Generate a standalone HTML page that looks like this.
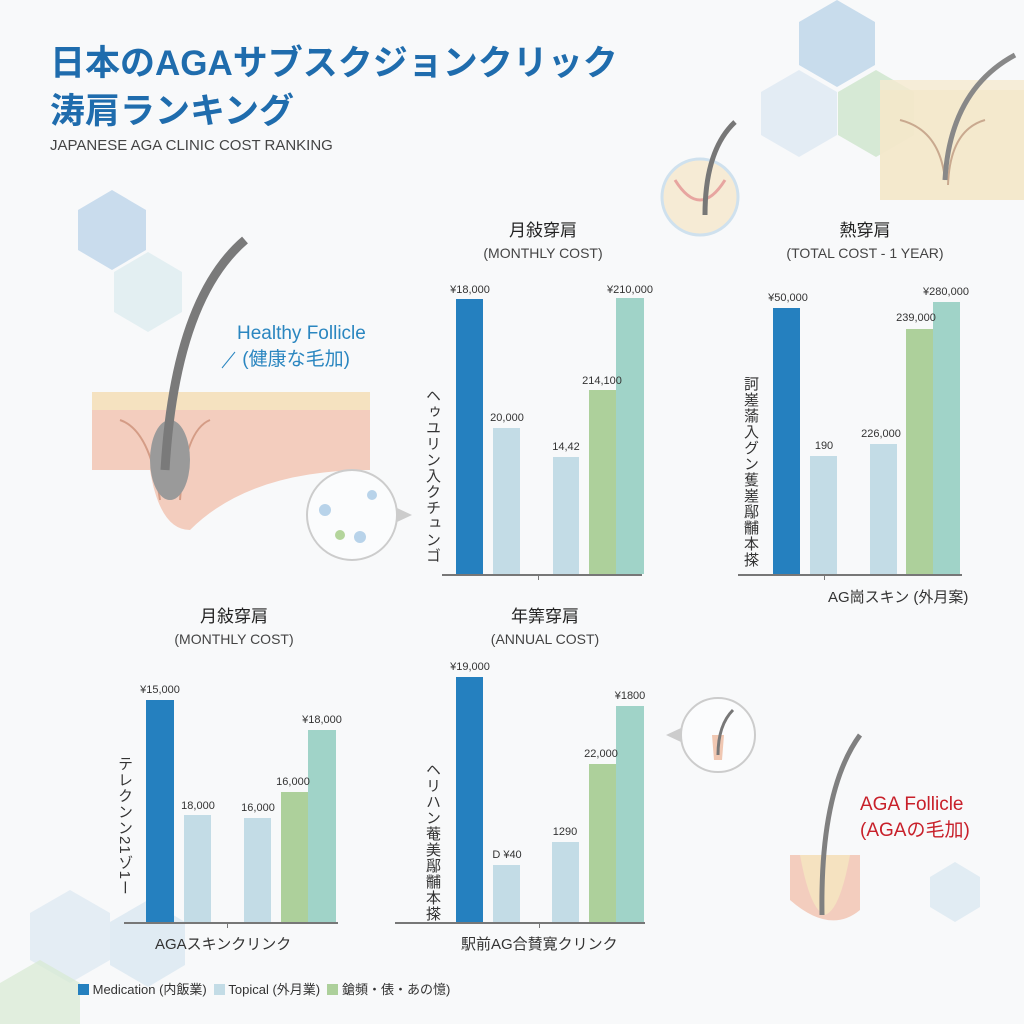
<!DOCTYPE html>
<html><head><meta charset="utf-8"><style>
body{margin:0;width:1024px;height:1024px;background:#f8f9fa;position:relative;overflow:hidden;font-family:"Liberation Sans","Noto Sans CJK JP",sans-serif;}
.a{position:absolute;}
.t{position:absolute;color:#222;white-space:nowrap;}
.b{position:absolute;}
.v{position:absolute;font-size:11px;color:#333;white-space:nowrap;transform:translateX(-50%);}
.h{position:absolute;font-size:17px;color:#222;text-align:center;transform:translateX(-50%);white-space:nowrap;line-height:22px}
.h span{font-size:14px;color:#444}
.vt{position:absolute;writing-mode:vertical-rl;font-size:15px;color:#333;letter-spacing:1px}
.ax{position:absolute;height:2px;background:#777}
</style></head><body>
<svg class="a" style="left:0;top:0" width="1024" height="1024">
<g fill="#a9c8e2" opacity="0.6"><polygon points="837,0 875,22 875,65 837,87 799,65 799,22"/></g>
<polygon points="799,70 837,92 837,135 799,157 761,135 761,92" fill="#dde9f2" opacity="0.8"/>
<polygon points="876,70 914,92 914,135 876,157 838,135 838,92" fill="#c8e2c4" opacity="0.7"/>
<polygon points="112,190 146,210 146,250 112,270 78,250 78,210" fill="#c9dced"/>
<polygon points="148,252 182,272 182,312 148,332 114,312 114,272" fill="#e3eff2"/>
<polygon points="955,862 980,877 980,907 955,922 930,907 930,877" fill="#e1ecf3"/>
<polygon points="70,890 110,913 110,960 70,983 30,960 30,913" fill="#dfeaf2" opacity="0.8"/>
<polygon points="148,900 185,922 185,965 148,987 110,965 110,922" fill="#d6e6f0" opacity="0.7"/>
<polygon points="40,960 80,983 80,1030 40,1053 0,1030 0,983" fill="#d7e9d1" opacity="0.7"/>
<!-- top right skin -->
<rect x="880" y="80" width="144" height="120" fill="#f5ead0" opacity="0.8"/>
<path d="M880,90 L1024,90 L1024,200 L880,200 Z" fill="#f3e6c7" opacity="0.6"/>
<path d="M900,120 Q940,130 945,180 M985,120 Q950,130 948,185" stroke="#c9a98f" fill="none" stroke-width="2"/>
<path d="M1015,55 Q950,90 945,180" stroke="#888" stroke-width="5" fill="none"/>
<!-- small circle top -->
<circle cx="700" cy="197" r="38" fill="#f6ebd5" stroke="#cfe1ee" stroke-width="3"/>
<path d="M675,180 Q700,220 725,180" stroke="#e7a5a0" fill="none" stroke-width="3"/>
<path d="M735,122 Q705,150 705,215" stroke="#777" stroke-width="5" fill="none"/>
<!-- healthy follicle -->
<path d="M92,392 L370,392 L370,470 Q250,470 190,530 Q160,530 150,470 Q100,470 92,470 Z" fill="#f3cdbe"/>
<path d="M92,392 L370,392 L370,410 L92,410 Z" fill="#f5e2c0"/>
<path d="M120,420 Q150,430 160,500 M210,420 Q185,430 180,500" stroke="#d49c86" stroke-width="2" fill="none"/>
<ellipse cx="170" cy="460" rx="20" ry="40" fill="#9a9a9a"/>
<path d="M245,240 Q175,300 165,470" stroke="#7a7a7a" stroke-width="9" fill="none"/>
<line x1="235" y1="352" x2="222" y2="368" stroke="#2a86c0" stroke-width="1"/>
<!-- molecule circle -->
<circle cx="352" cy="515" r="45" fill="#fbfcfd" stroke="#ccc" stroke-width="2"/>
<polygon points="397,508 412,515 397,522" fill="#ccc"/>
<g fill="#b8d3ea"><circle cx="325" cy="510" r="6"/><circle cx="360" cy="537" r="6"/><circle cx="372" cy="495" r="5"/></g>
<circle cx="340" cy="535" r="5" fill="#b4d59c"/>
<!-- AGA small circle -->
<circle cx="718" cy="735" r="37" fill="#fbfcfd" stroke="#ccc" stroke-width="2"/>
<polygon points="681,728 666,735 681,742" fill="#ccc"/>
<path d="M712,735 L724,735 L722,760 L714,760Z" fill="#f0c7b2"/>
<path d="M733,710 Q718,725 718,755" stroke="#777" stroke-width="3" fill="none"/>
<!-- AGA follicle -->
<path d="M790,855 L860,855 L860,910 Q830,935 790,900 Z" fill="#f3cdbe"/>
<path d="M800,855 Q810,910 825,915 Q840,910 850,855" fill="#f5e2c0"/>
<path d="M860,735 Q820,790 822,915" stroke="#808080" stroke-width="5" fill="none"/>
</svg>

<div class="t" style="left:50px;top:40px;font-size:35px;font-weight:bold;color:#1f6cad;line-height:48px">日本のAGAサブスクジョンクリック<br>涛肩ランキング</div>
<div class="t" style="left:50px;top:137px;font-size:15px;color:#444">JAPANESE AGA CLINIC COST RANKING</div>
<div class="t" style="left:237px;top:321px;font-size:19px;color:#2a86c0;line-height:26px">Healthy Follicle<br>&nbsp;(健康な毛加)</div>
<div class="t" style="left:860px;top:792px;font-size:19px;color:#c8202a;line-height:26px">AGA Follicle<br>(AGAの毛加)</div>

<!-- chart 1 -->
<div class="h" style="left:543px;top:220px">月敍穿肩<br><span>(MONTHLY COST)</span></div>
<div class="vt" style="left:422px;top:388px">ヘゥユリン入クチュンゴ</div>
<div class="b" style="left:456px;top:299px;width:27px;height:275px;background:#2580bf"></div>
<div class="b" style="left:493px;top:428px;width:27px;height:146px;background:#c3dce6"></div>
<div class="b" style="left:553px;top:457px;width:26px;height:117px;background:#c3dce6"></div>
<div class="b" style="left:589px;top:390px;width:27px;height:184px;background:#add09b"></div>
<div class="b" style="left:616px;top:298px;width:28px;height:276px;background:#a0d3c8"></div>
<div class="v" style="left:470px;top:284px">¥18,000</div>
<div class="v" style="left:507px;top:412px">20,000</div>
<div class="v" style="left:566px;top:441px">14,42</div>
<div class="v" style="left:602px;top:375px">214,100</div>
<div class="v" style="left:630px;top:284px">¥210,000</div>
<div class="ax" style="left:442px;top:574px;width:200px"></div>
<div class="ax" style="left:538px;top:574px;width:1px;height:6px"></div>

<!-- chart 2 -->
<div class="h" style="left:865px;top:220px">熱穿肩<br><span>(TOTAL COST - 1 YEAR)</span></div>
<div class="vt" style="left:740px;top:376px">訶嵳蕍入グン蒦嵳鄬黼本搽</div>
<div class="b" style="left:773px;top:308px;width:27px;height:266px;background:#2580bf"></div>
<div class="b" style="left:810px;top:456px;width:27px;height:118px;background:#c3dce6"></div>
<div class="b" style="left:870px;top:444px;width:27px;height:130px;background:#c3dce6"></div>
<div class="b" style="left:906px;top:329px;width:27px;height:245px;background:#add09b"></div>
<div class="b" style="left:933px;top:302px;width:27px;height:272px;background:#a0d3c8"></div>
<div class="v" style="left:788px;top:292px">¥50,000</div>
<div class="v" style="left:824px;top:440px">190</div>
<div class="v" style="left:881px;top:428px">226,000</div>
<div class="v" style="left:916px;top:312px">239,000</div>
<div class="v" style="left:946px;top:286px">¥280,000</div>
<div class="ax" style="left:738px;top:574px;width:224px"></div>
<div class="ax" style="left:824px;top:574px;width:1px;height:6px"></div>
<div class="t" style="left:828px;top:586px;font-size:15px;color:#333">AG崗スキン (外月案)</div>

<!-- chart 3 -->
<div class="h" style="left:234px;top:606px">月敍穿肩<br><span>(MONTHLY COST)</span></div>
<div class="vt" style="left:114px;top:756px">テレクンン21ゾ1ー</div>
<div class="b" style="left:146px;top:700px;width:28px;height:222px;background:#2580bf"></div>
<div class="b" style="left:184px;top:815px;width:27px;height:107px;background:#c3dce6"></div>
<div class="b" style="left:244px;top:818px;width:27px;height:104px;background:#c3dce6"></div>
<div class="b" style="left:281px;top:792px;width:27px;height:130px;background:#add09b"></div>
<div class="b" style="left:308px;top:730px;width:28px;height:192px;background:#a0d3c8"></div>
<div class="v" style="left:160px;top:684px">¥15,000</div>
<div class="v" style="left:198px;top:800px">18,000</div>
<div class="v" style="left:258px;top:802px">16,000</div>
<div class="v" style="left:293px;top:776px">16,000</div>
<div class="v" style="left:322px;top:714px">¥18,000</div>
<div class="ax" style="left:124px;top:922px;width:214px"></div>
<div class="ax" style="left:227px;top:922px;width:1px;height:6px"></div>
<div class="t" style="left:155px;top:933px;font-size:15px;color:#333">AGAスキンクリンク</div>

<!-- chart 4 -->
<div class="h" style="left:545px;top:606px">年筭穿肩<br><span>(ANNUAL COST)</span></div>
<div class="vt" style="left:422px;top:762px">ヘリハン菴美鄬黼本搽</div>
<div class="b" style="left:456px;top:677px;width:27px;height:245px;background:#2580bf"></div>
<div class="b" style="left:493px;top:865px;width:27px;height:57px;background:#c3dce6"></div>
<div class="b" style="left:552px;top:842px;width:27px;height:80px;background:#c3dce6"></div>
<div class="b" style="left:589px;top:764px;width:27px;height:158px;background:#add09b"></div>
<div class="b" style="left:616px;top:706px;width:28px;height:216px;background:#a0d3c8"></div>
<div class="v" style="left:470px;top:661px">¥19,000</div>
<div class="v" style="left:507px;top:849px">D ¥40</div>
<div class="v" style="left:565px;top:826px">1290</div>
<div class="v" style="left:601px;top:748px">22,000</div>
<div class="v" style="left:630px;top:690px">¥1800</div>
<div class="ax" style="left:395px;top:922px;width:250px"></div>
<div class="ax" style="left:539px;top:922px;width:1px;height:6px"></div>
<div class="t" style="left:461px;top:933px;font-size:15px;color:#333">駅前AG合賛寛クリンク</div>

<!-- legend -->
<div class="t" style="left:78px;top:979px;font-size:13px;color:#333">
<span style="display:inline-block;width:11px;height:11px;background:#2580bf;vertical-align:-1px"></span> Medication (内飯業)&nbsp;
<span style="display:inline-block;width:11px;height:11px;background:#c3dce6;vertical-align:-1px"></span> Topical (外月業)&nbsp;
<span style="display:inline-block;width:11px;height:11px;background:#add09b;vertical-align:-1px"></span> 鎗頻・俵・あの憶)</div>
</body></html>
